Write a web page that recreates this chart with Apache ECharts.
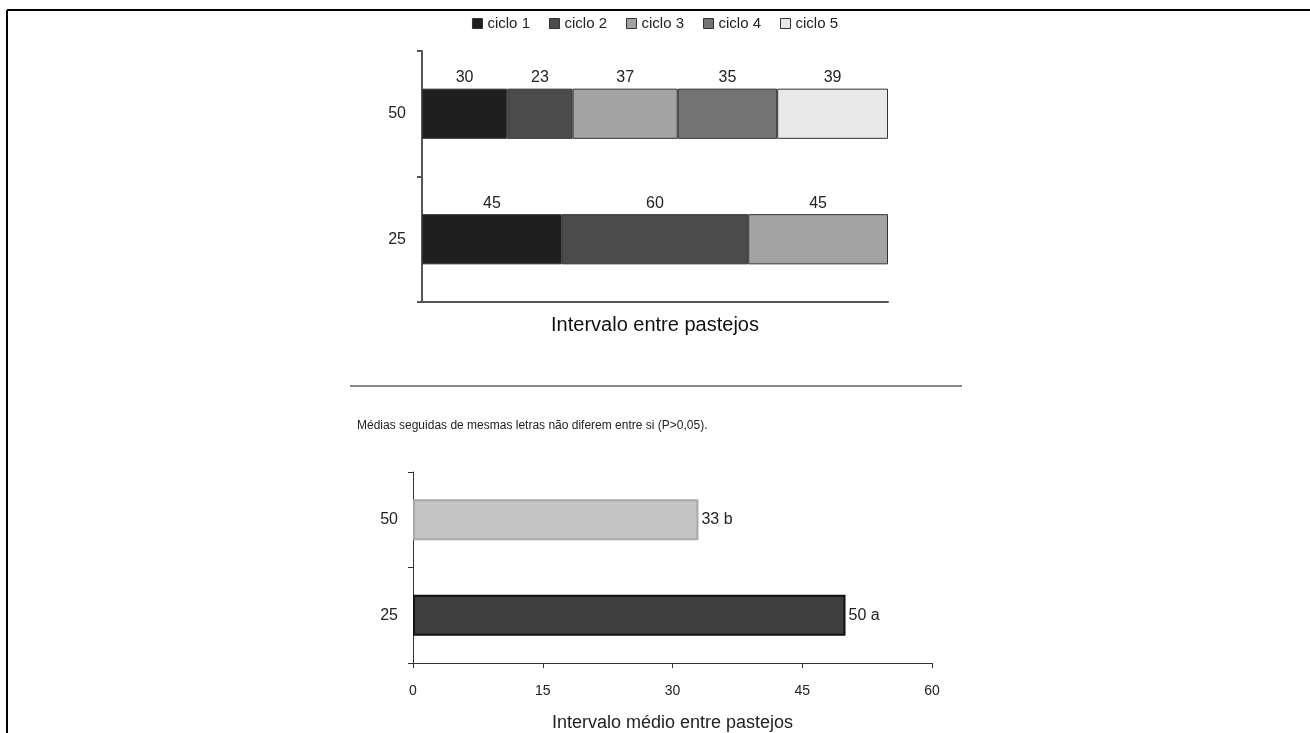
<!DOCTYPE html>
<html>
<head>
<meta charset="utf-8">
<script src="https://cdn.jsdelivr.net/npm/echarts@6/dist/echarts.min.js"></script>
<style>
  html, body { margin: 0; padding: 0; background: #fff; }
  #chart { width: 1310px; height: 733px; }
</style>
</head>
<body>
<div id="chart"></div>
<script>
// Grazing intervals (days) per cycle, for the two intensity levels
const rowLabels = ['25', '50'];
const cycleNames = ['ciclo 1', 'ciclo 2', 'ciclo 3', 'ciclo 4', 'ciclo 5'];
const cycle1 = [45, 30];
const cycle2 = [60, 23];
const cycle3 = [45, 37];
const cycle4 = [null, 35];
const cycle5 = [null, 39];

// Mean interval between grazings and significance letters
const meanValues = [50, 33];
const meanLetters = ['a', 'b'];
const meanTicks = [0, 15, 30, 45, 60];

const cycleColors = ['#1f1f1f', '#4b4b4b', '#a3a3a3', '#737373', '#e8e8e8'];
const cycles = [cycle1, cycle2, cycle3, cycle4, cycle5];

// Each row is drawn as a share of its own total length
const rowTotals = rowLabels.map((_, i) =>
  cycles.reduce((s, c) => s + (c[i] == null ? 0 : c[i]), 0));

const font = 'Liberation Sans, Arial, sans-serif';
const textColor = '#222';
const axisColor = '#555';

const stackSeries = cycles.map((vals, k) => ({
  name: cycleNames[k],
  type: 'bar',
  stack: 'ciclos',
  xAxisIndex: 0,
  yAxisIndex: 0,
  barWidth: '40%',
  itemStyle: { color: cycleColors[k], borderColor: '#333', borderWidth: 1 },
  label: {
    show: true,
    position: 'top',
    distance: 3,
    color: textColor,
    fontFamily: font,
    fontSize: 16,
    formatter: p => String(vals[p.dataIndex])
  },
  data: vals.map((v, i) => v == null ? null : v / rowTotals[i] * 100)
}));

const meanStyles = [
  { color: '#3f3f3f', borderColor: '#111', borderWidth: 2 },
  { color: '#c4c4c4', borderColor: '#a8a8a8', borderWidth: 2 }
];

const chart = echarts.init(document.getElementById('chart'), null, { renderer: 'canvas' });

chart.setOption({
  animation: false,
  backgroundColor: '#fff',
  legend: {
    data: cycleNames.map((n, k) => ({
      name: n,
      itemStyle: { color: cycleColors[k], borderColor: '#333', borderWidth: 1 }
    })),
    top: 11,
    left: 'center',
    icon: 'rect',
    itemWidth: 10,
    itemHeight: 10,
    itemGap: 19,
    textStyle: { fontFamily: font, fontSize: 15, color: textColor }
  },
  grid: [
    { left: 422, top: 51, width: 466, height: 251 },
    { left: 413, top: 472, width: 519, height: 193 }
  ],
  xAxis: [
    {
      gridIndex: 0, type: 'value', min: 0, max: 100,
      axisLine: { show: true, lineStyle: { color: axisColor, width: 2 } },
      axisTick: { show: false }, axisLabel: { show: false }, splitLine: { show: false },
      name: 'Intervalo entre pastejos', nameLocation: 'middle', nameGap: 13,
      nameTextStyle: { fontFamily: font, fontSize: 20, color: '#111' }
    },
    {
      gridIndex: 1, type: 'value', min: 0, max: 60, interval: 15,
      axisLine: { show: true, lineStyle: { color: '#333', width: 1 } },
      axisTick: { show: true, length: 5, lineStyle: { color: '#333' } },
      axisLabel: { fontFamily: font, fontSize: 14, color: textColor, margin: 21,
        formatter: v => meanTicks.includes(v) ? String(v) : '' },
      splitLine: { show: false },
      name: 'Intervalo médio entre pastejos', nameLocation: 'middle', nameGap: 51,
      nameTextStyle: { fontFamily: font, fontSize: 18, color: textColor }
    }
  ],
  yAxis: [
    {
      gridIndex: 0, type: 'category', data: rowLabels,
      axisLine: { show: true, lineStyle: { color: axisColor, width: 2 } },
      axisTick: { show: true, length: 5, lineStyle: { color: axisColor, width: 2 } },
      axisLabel: { fontFamily: font, fontSize: 16, color: textColor, margin: 16 }
    },
    {
      gridIndex: 1, type: 'category', data: rowLabels,
      axisLine: { show: true, lineStyle: { color: '#333', width: 1 } },
      axisTick: { show: true, length: 5, lineStyle: { color: '#333' } },
      axisLabel: { fontFamily: font, fontSize: 16, color: textColor, margin: 15 }
    }
  ],
  series: stackSeries.concat([{
    type: 'bar',
    xAxisIndex: 1,
    yAxisIndex: 1,
    barWidth: '43%',
    data: meanValues.map((v, i) => ({ value: v, itemStyle: meanStyles[i] })),
    label: {
      show: true, position: 'right', distance: 3,
      fontFamily: font, fontSize: 16, color: textColor,
      formatter: p => p.value + ' ' + meanLetters[p.dataIndex]
    }
  }]),
  graphic: [
    // frame lines
    { type: 'line', shape: { x1: 7, y1: 10, x2: 1310, y2: 10 }, style: { stroke: '#000', lineWidth: 2 } },
    { type: 'line', shape: { x1: 7, y1: 10, x2: 7, y2: 733 }, style: { stroke: '#000', lineWidth: 2 } },
    // separator between panels
    { type: 'line', shape: { x1: 350, y1: 386, x2: 962, y2: 386 }, style: { stroke: '#888', lineWidth: 2 } },
    {
      type: 'text', left: 357, top: 420,
      style: { text: 'Médias seguidas de mesmas letras não diferem entre si (P>0,05).',
        fontFamily: font, fontSize: 12, fill: textColor }
    }
  ]
});
</script>
</body>
</html>
